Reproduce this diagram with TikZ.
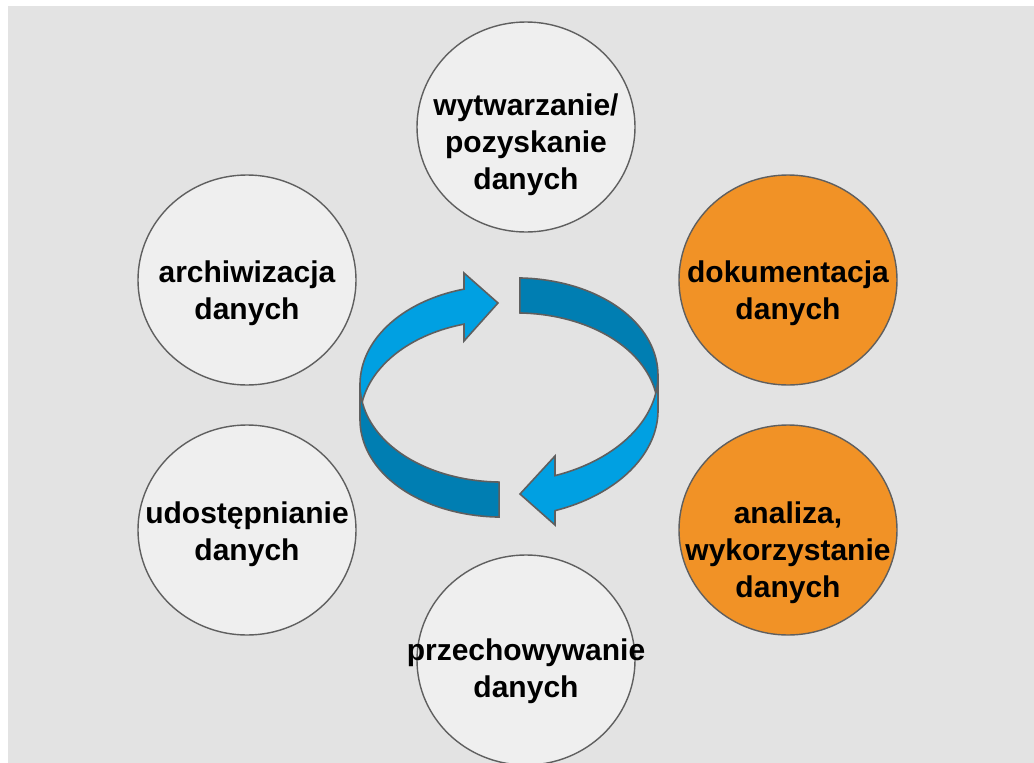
\documentclass[tikz,border=0pt]{standalone}
\usepackage{fontspec}
\setmainfont{Liberation Sans}
\usepackage{tikz}
\usetikzlibrary{calc,shapes.geometric}

\definecolor{bggray}{RGB}{227,227,227}
\definecolor{circfill}{RGB}{239,239,239}
\definecolor{edgegray}{RGB}{95,95,95}
\definecolor{stageorange}{RGB}{241,146,38}
\definecolor{ringlight}{RGB}{0,160,226}
\definecolor{ringdark}{RGB}{0,126,178}

\begin{document}
\begin{tikzpicture}[x=1pt,y=-1pt,
		stage/.style={ellipse, draw=edgegray, line width=1.4pt, fill=circfill, minimum width=218pt, minimum height=210pt, inner sep=0pt},
		lbl/.style={align=center, font=\fontsize{30}{37}\selectfont\bfseries},
		band/.style={draw=edgegray, line width=1.6pt}]
		\useasboundingbox (0,0) rectangle (1034,763);
		\clip (0,0) rectangle (1034,763);
		\fill[white] (0,0) rectangle (1034,763);
		\fill[bggray] (8,6) rectangle (1034,763);
		
		% stages
		\node[stage] (wytw) at (526,127) {};
		\node[stage] (arch) at (247,280) {};
		\node[stage, fill=stageorange] (dok) at (788,280) {};
		\node[stage] (udost) at (247,530) {};
		\node[stage, fill=stageorange] (anal) at (788,530) {};
		\node[stage] (przech) at (526,660) {};
		
		\node[lbl] (wytwT) at ($(wytw)+(0,18)$) {wytwarzanie/\\pozyskanie\\danych};
		\node[lbl] (archT) at ($(arch)+(0,13)$) {archiwizacja\\danych};
		\node[lbl] (dokT) at ($(dok)+(0,13)$) {dokumentacja\\danych};
		\node[lbl] (udostT) at ($(udost)+(0,4)$) {udostępnianie\\danych};
		\node[lbl] (analT) at ($(anal)+(0,23)$) {analiza,\\wykorzystanie\\danych};
		\node[lbl] (przechT) at ($(przech)+(0,11)$) {przechowywanie\\danych};
		
		% ring, back half
		\filldraw[band, fill=ringdark] plot[domain=274.2:360, samples=40, variable=\t] ({509+149*cos(\t)},{380+102*sin(\t)-4.47*cos(\t)})
			-- plot[domain=360:274.2, samples=40, variable=\t] ({509+149*cos(\t)},{415+102*sin(\t)-4.47*cos(\t)}) -- cycle;
		\filldraw[band, fill=ringlight] plot[domain=180:252.4, samples=40, variable=\t] ({509+149*cos(\t)},{380+102*sin(\t)-4.47*cos(\t)+5*((\t-180)/72.4)^2})
			-- (464,273) -- (498,303) -- (464,341)
			-- plot[domain=252.4:180, samples=40, variable=\t] ({509+149*cos(\t)},{415+102*sin(\t)-4.47*cos(\t)+5*((\t-180)/72.4)^2}) -- cycle;
		% ring, front half
		\filldraw[band, fill=ringdark] plot[domain=93.8:180, samples=40, variable=\t] ({509+149*cos(\t)},{380+102*sin(\t)-4.47*cos(\t)})
			-- plot[domain=180:93.8, samples=40, variable=\t] ({509+149*cos(\t)},{415+102*sin(\t)-4.47*cos(\t)}) -- cycle;
		\filldraw[band, fill=ringlight] plot[domain=0:72, samples=40, variable=\t] ({509+149*cos(\t)},{380+102*sin(\t)-4.47*cos(\t)})
			-- (555,456) -- (520,494) -- (555,525)
			-- plot[domain=72:0, samples=40, variable=\t] ({509+149*cos(\t)},{415+102*sin(\t)-4.47*cos(\t)}) -- cycle;
	\end{tikzpicture}
\end{document}
